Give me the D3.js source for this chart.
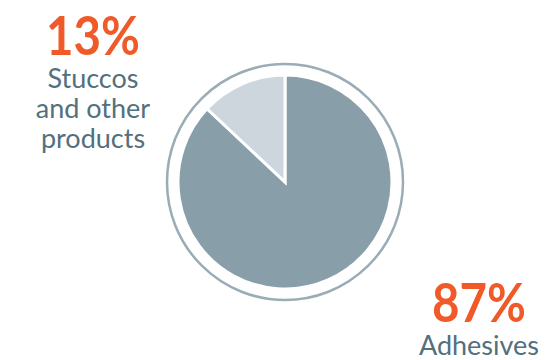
<!DOCTYPE html>
<html>
<head>
<meta charset="utf-8">
<script src="https://cdn.jsdelivr.net/npm/d3@7"></script>
<style>
  body { margin: 0; background: #fff; }
  svg { display: block; }
</style>
</head>
<body>
<div id="vis"></div>
<script>
// data
const categories = ["Adhesives", "Stuccos and other products"];
const shares = [87, 13];
const pctLabels = ["87%", "13%"];
const nameLines = [["Adhesives"], ["Stuccos", "and other", "products"]];

const width = 546, height = 360;
const cx = 285, cy = 182;
const ringR = 118, pieR = 107;

const sliceColors = ["#889ea8", "#cdd6dc"];
const orange = "#f05a28";
const textColor = "#52707e";

var svg = d3.select("#vis").append("svg")
  .attr("width", width)
  .attr("height", height);

const pieData = d3.pie().sort(null)(shares);
const arc = d3.arc().innerRadius(0).outerRadius(pieR);

const g = svg.append("g").attr("transform", `translate(${cx},${cy})`);

// outer ring
g.append("circle")
  .attr("r", ringR)
  .attr("fill", "none")
  .attr("stroke", "#9aacb5")
  .attr("stroke-width", 2.5);

g.selectAll("path")
  .data(pieData)
  .join("path")
  .attr("d", arc)
  .attr("fill", (d, i) => sliceColors[i])
  .attr("stroke", "#fff")
  .attr("stroke-width", 3)
  .attr("stroke-linejoin", "miter");

// labels
const labelPos = [
  { x: 479, y: 322 },
  { x: 93, y: 55 }
];

labelPos.forEach((p, i) => {
  svg.append("text")
    .attr("x", p.x)
    .attr("y", p.y)
    .attr("text-anchor", "middle")
    .attr("font-family", "Lato")
    .attr("font-weight", 700)
    .attr("font-size", 54)
    .attr("textLength", 94)
    .attr("lengthAdjust", "spacingAndGlyphs")
    .attr("fill", orange)
    .text(pctLabels[i]);

  nameLines[i].forEach((line, j) => {
    svg.append("text")
      .attr("x", p.x)
      .attr("y", p.y + 33 + j * 30)
      .attr("text-anchor", "middle")
      .attr("font-family", "Lato")
      .attr("font-size", 27)
      .attr("fill", textColor)
      .text(line);
  });
});
</script>
</body>
</html>
